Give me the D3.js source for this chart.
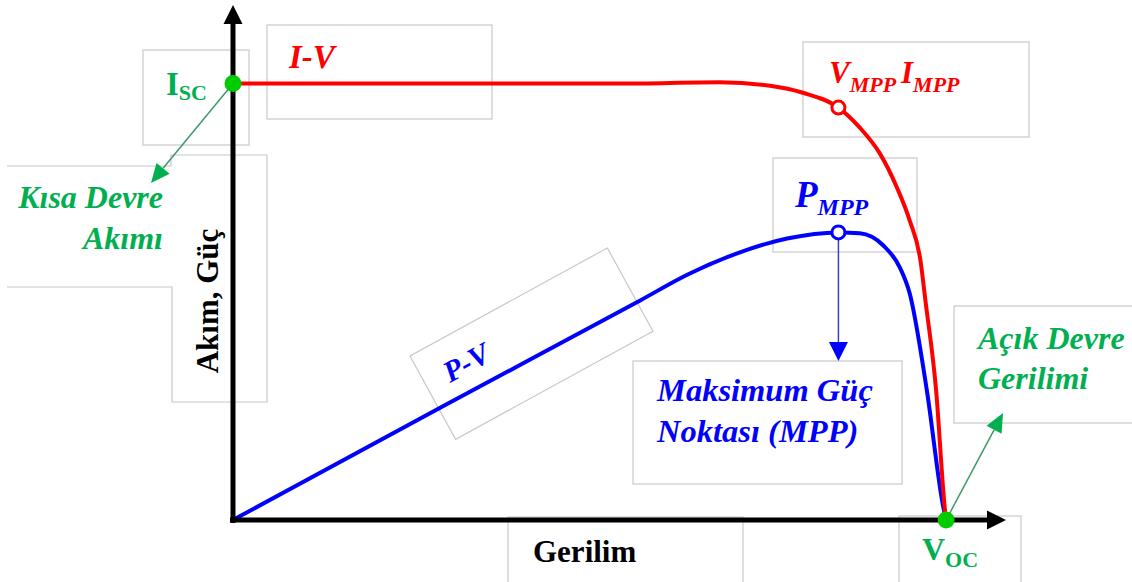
<!DOCTYPE html>
<html>
<head>
<meta charset="utf-8">
<script src="https://cdn.jsdelivr.net/npm/d3@7"></script>
<style>
	body { margin: 0; background: #fff; }
	svg text { font-family: "Liberation Serif", "Times New Roman", serif; font-weight: bold; }
	.note-box { fill: none; stroke: #c8c8c8; stroke-width: 1.2; }
	.it { font-style: italic; }
</style>
</head>
<body>
<svg id="plot" width="1132" height="582"></svg>
<script>

// normalised units: Voc = 100 on the voltage axis, Isc = 100 on the current / power axis
const IV_VOLTAGE = [0, 54.3, 68.3, 75.3, 79.9, 84.9, 87.9, 90.7, 93.1, 94.9, 96.4, 97.1, 98.6, 99.8, 100];
const IV_CURRENT = [100, 100, 100.3, 99.5, 97.9, 94.5, 89.9, 84.0, 76.2, 68.6, 59.5, 50.3, 29.7, 3.0, 0];

const PV_VOLTAGE = [0, 29.7, 57.1, 63.7, 70.7, 77.7, 84.9, 87.9, 91.2, 93.5, 94.9, 97.3, 99.6, 100];
const PV_POWER = [0, 26.3, 50.3, 56.2, 61.1, 64.5, 65.9, 65.7, 62.9, 57.9, 51.9, 29.7, 3.0, 0];

const ISC = 100;
const VOC = 100;
const MPP_VOLTAGE = 84.9;
const MPP_CURRENT = 94.5;
const MPP_POWER = 65.9;

const V_AXIS_END = 108.4;
const Y_AXIS_END = 118;

const X_TITLE = 'Gerilim';
const Y_TITLE = 'Akım, Güç';

const GREEN_TEXT = '#00b050';

const svg = d3.select('#plot');

const x = d3.scaleLinear().domain([0, V_AXIS_END]).range([233, 1006]);
const y = d3.scaleLinear().domain([0, Y_AXIS_END]).range([520, 5]);

// grey text-box outlines left over from the original drawing
const NOTE_BOXES = [
	[143, 50, 106, 95],
	[267, 25, 225, 94],
	[803, 42, 226, 95],
	[773, 158, 144, 94],
	[633, 361, 269, 123],
	[954, 306, 200, 117],
	[899, 516, 122, 80],
	[508, 517, 235, 80]
];

svg.append('g')
	.selectAll('rect')
	.data(NOTE_BOXES)
	.enter()
	.append('rect')
		.classed('note-box', true)
		.attr('x', d => d[0])
		.attr('y', d => d[1])
		.attr('width', d => d[2])
		.attr('height', d => d[3]);

svg.append('path')
	.classed('note-box', true)
	.attr('d', 'M7,166H171V155H267V402H172V287H7');

svg.append('rect')
	.classed('note-box', true)
	.attr('width', 225)
	.attr('height', 95)
	.attr('transform', 'translate(410,356) rotate(-28.7)');

// curves
const iv_data = IV_VOLTAGE.map((v, i) => ({v: v, val: IV_CURRENT[i]}));
const pv_data = PV_VOLTAGE.map((v, i) => ({v: v, val: PV_POWER[i]}));

const curve_line = d3.line()
	.x(d => x(d.v))
	.y(d => y(d.val))
	.curve(d3.curveMonotoneX);

svg.append('path')
	.datum(pv_data)
	.attr('d', curve_line)
	.attr('fill', 'none')
	.attr('stroke', '#0000ff')
	.attr('stroke-width', 4);

svg.append('path')
	.datum(iv_data)
	.attr('d', curve_line)
	.attr('fill', 'none')
	.attr('stroke', '#ff0000')
	.attr('stroke-width', 4);

// axes with arrow heads
const axes = svg.append('g');
axes.append('line')
	.attr('x1', x(0)).attr('y1', y(0) + 3)
	.attr('x2', x(0)).attr('y2', y(Y_AXIS_END) + 14)
	.attr('stroke', '#000').attr('stroke-width', 5);
axes.append('line')
	.attr('x1', x(0) - 3).attr('y1', y(0))
	.attr('x2', x(V_AXIS_END) - 14).attr('y2', y(0))
	.attr('stroke', '#000').attr('stroke-width', 5);
axes.append('path')
	.attr('d', `M${x(0)},${y(Y_AXIS_END)}L${x(0) + 9.5},${y(Y_AXIS_END) + 19}L${x(0) - 9.5},${y(Y_AXIS_END) + 19}Z`)
	.attr('fill', '#000');
axes.append('path')
	.attr('d', `M${x(V_AXIS_END)},${y(0)}L${x(V_AXIS_END) - 19},${y(0) - 9.5}L${x(V_AXIS_END) - 19},${y(0) + 9.5}Z`)
	.attr('fill', '#000');

function drawArrow(x1, y1, x2, y2, head_len, head_w, line_color, head_color, line_width) {
	const a = Math.atan2(y2 - y1, x2 - x1);
	const bx = x2 - head_len * Math.cos(a);
	const by = y2 - head_len * Math.sin(a);
	const px = -Math.sin(a) * head_w / 2;
	const py = Math.cos(a) * head_w / 2;
	svg.append('line')
		.attr('x1', x1).attr('y1', y1)
		.attr('x2', bx).attr('y2', by)
		.attr('stroke', line_color)
		.attr('stroke-width', line_width);
	svg.append('path')
		.attr('d', `M${x2},${y2}L${bx + px},${by + py}L${bx - px},${by - py}Z`)
		.attr('fill', head_color);
}

drawArrow(x(0), y(ISC), 151, 183, 19, 17, '#3d9a6b', GREEN_TEXT, 1.5);
drawArrow(x(VOC), y(0), 1003, 413, 19, 17, '#3d9a6b', GREEN_TEXT, 1.5);
drawArrow(x(MPP_VOLTAGE), y(MPP_POWER) + 6, x(MPP_VOLTAGE), 361, 19, 19, '#3b3bd0', '#0000ff', 1.5);

// key points
svg.append('circle')
	.attr('cx', x(0)).attr('cy', y(ISC)).attr('r', 8.5)
	.attr('fill', '#00cc00');
svg.append('circle')
	.attr('cx', x(VOC)).attr('cy', y(0)).attr('r', 8.5)
	.attr('fill', '#00cc00');
svg.append('circle')
	.attr('cx', x(MPP_VOLTAGE)).attr('cy', y(MPP_CURRENT)).attr('r', 6.5)
	.attr('fill', '#fff').attr('stroke', '#ff0000').attr('stroke-width', 3);
svg.append('circle')
	.attr('cx', x(MPP_VOLTAGE)).attr('cy', y(MPP_POWER)).attr('r', 6.5)
	.attr('fill', '#fff').attr('stroke', '#0000ff').attr('stroke-width', 3);

// axis titles
svg.append('text')
	.text(X_TITLE)
	.attr('x', 533).attr('y', 562)
	.attr('font-size', 31);

svg.append('text')
	.text(Y_TITLE)
	.attr('text-anchor', 'middle')
	.attr('font-size', 31)
	.attr('transform', 'translate(218,301) rotate(-90)');

// labels with subscripts
function subLabel(px, py, parts, color, italic) {
	const t = svg.append('text')
		.attr('x', px).attr('y', py)
		.attr('fill', color)
		.classed('it', italic);
	parts.forEach(p => {
		const s = t.append('tspan').text(p.text).attr('font-size', p.size).attr('dy', p.dy || 0);
		if (p.x !== undefined) s.attr('x', p.x);
	});
}

subLabel(166, 95, [{text: 'I', size: 33}, {text: 'SC', size: 22, dy: 5}], GREEN_TEXT, false);
subLabel(922, 560, [{text: 'V', size: 32}, {text: 'OC', size: 22, dy: 7}], GREEN_TEXT, false);
subLabel(829, 83, [{text: 'V', size: 31}, {text: 'MPP', size: 22, dy: 9},
	{text: 'I', size: 31, dy: -9, x: 901}, {text: 'MPP', size: 22, dy: 9}], '#ff0000', true);
subLabel(795, 207, [{text: 'P', size: 37}, {text: 'MPP', size: 24, dy: 8}], '#0000ff', true);

svg.append('text')
	.text('I-V')
	.classed('it', true)
	.attr('x', 289).attr('y', 68)
	.attr('font-size', 33)
	.attr('fill', '#ff0000');

svg.append('text')
	.text('P-V')
	.classed('it', true)
	.attr('font-size', 30)
	.attr('fill', '#0000ff')
	.attr('transform', 'translate(450,383) rotate(-28.7)');

// multi-line notes
function noteText(px, py, lines, anchor, color, size, gap) {
	svg.append('g')
		.selectAll('text')
		.data(lines)
		.enter()
		.append('text')
			.text(d => d)
			.classed('it', true)
			.attr('x', px)
			.attr('y', (d, i) => py + i * gap)
			.attr('text-anchor', anchor)
			.attr('font-size', size)
			.attr('fill', color);
}

noteText(163, 208, ['Kısa Devre', 'Akımı'], 'end', GREEN_TEXT, 32, 41);
noteText(978, 349, ['Açık Devre', 'Gerilimi'], 'start', GREEN_TEXT, 32, 40);
noteText(657, 401, ['Maksimum Güç', 'Noktası (MPP)'], 'start', '#0000ff', 32.5, 41);

</script>
</body>
</html>
